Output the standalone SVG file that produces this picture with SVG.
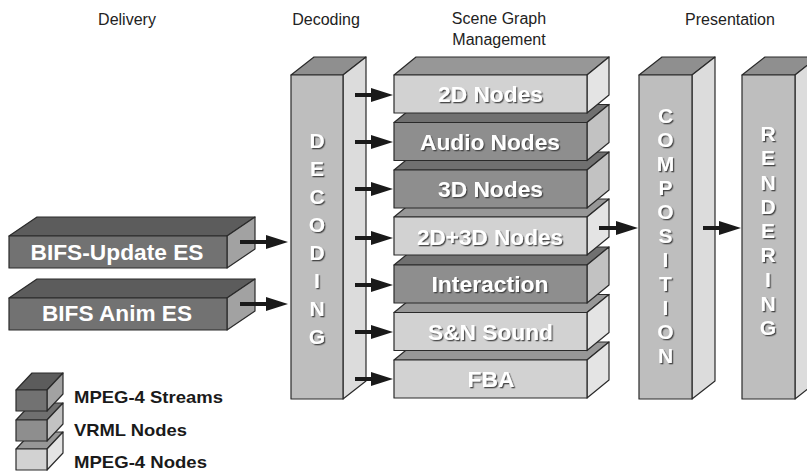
<svg xmlns="http://www.w3.org/2000/svg" width="807" height="475" viewBox="0 0 807 475">
  <defs>
    <style>
      .edge { stroke: #2a2a2a; stroke-width: 1.2; stroke-linejoin: round; }
      .dk-f { fill: #727272; } .dk-t { fill: #5c5c5c; } .dk-s { fill: #a2a2a2; }
      .md-f { fill: #8e8e8e; } .md-t { fill: #707070; } .md-s { fill: #c2c2c2; }
      .lt-f { fill: #d2d2d2; } .lt-t { fill: #979797; } .lt-s { fill: #e4e4e4; }
      .col-f { fill: #bebebe; } .col-t { fill: #8f8f8f; } .col-s { fill: #dcdcdc; }
      .head { font-family: "Liberation Sans", Arial, sans-serif; font-size: 16px; fill: #222; text-anchor: middle; }
      .lbl { font-family: "Liberation Sans", Arial, sans-serif; font-weight: bold; font-size: 22px; fill: #ffffff; text-anchor: middle; }
      .sh { filter: url(#shadow); }
      .vert { font-family: "Liberation Sans", Arial, sans-serif; font-weight: bold; font-size: 21px; fill: #ffffff; text-anchor: middle; filter: url(#shadow); }
      .leg { font-family: "Liberation Sans", Arial, sans-serif; font-weight: bold; font-size: 17px; fill: #1a1a1a; }
      .arrow { stroke: #1a1a1a; stroke-width: 4; fill: none; marker-end: url(#ah); }
    </style>
    <filter id="shadow" x="-20%" y="-20%" width="140%" height="140%">
      <feDropShadow dx="1.3" dy="1.3" stdDeviation="0.5" flood-color="#3c3c3c" flood-opacity="0.9"/>
    </filter>
    <marker id="ah" markerUnits="userSpaceOnUse" markerWidth="24" markerHeight="16" refX="12" refY="7" orient="auto">
      <path d="M0,0 L22,7 L0,14 Z" fill="#1a1a1a"/>
    </marker>
  </defs>

  <rect width="807" height="475" fill="#ffffff"/>

  <!-- column headings -->
  <g id="headings">
    <text class="head" x="127" y="25">Delivery</text>
    <text class="head" x="326" y="25">Decoding</text>
    <text class="head" x="499" y="24">Scene Graph</text>
    <text class="head" x="499" y="45">Management</text>
    <text class="head" x="730" y="25">Presentation</text>
  </g>

  <!-- delivery streams -->
  <g id="bifs-update">
    <polygon class="dk-t edge" points="9,236 37,217 255,217 227,236"/>
    <polygon class="dk-s edge" points="227,236 255,217 255,249 227,268"/>
    <rect class="dk-f edge" x="9" y="236" width="218" height="32"/>
    <text class="lbl" x="117" y="260" textLength="173" lengthAdjust="spacingAndGlyphs">BIFS-Update ES</text>
  </g>
  <g id="bifs-anim">
    <polygon class="dk-t edge" points="9,298 37,279 255,279 227,298"/>
    <polygon class="dk-s edge" points="227,298 255,279 255,311 227,330"/>
    <rect class="dk-f edge" x="9" y="298" width="218" height="32"/>
    <text class="lbl" x="117" y="321" textLength="150" lengthAdjust="spacingAndGlyphs">BIFS Anim ES</text>
  </g>

  <!-- decoding column -->
  <g id="decoding">
    <polygon class="col-t edge" points="291,75 314,57 366,57 343,75"/>
    <polygon class="col-s edge" points="343,75 366,57 366,381 343,399"/>
    <rect class="col-f edge" x="291" y="75" width="52" height="324"/>
    <text class="vert" x="317">
      <tspan x="317" y="148">D</tspan><tspan x="317" y="176">E</tspan><tspan x="317" y="204">C</tspan><tspan x="317" y="232">O</tspan><tspan x="317" y="260">D</tspan><tspan x="317" y="288">I</tspan><tspan x="317" y="316">N</tspan><tspan x="317" y="344">G</tspan>
    </text>
  </g>

  <!-- scene graph nodes, drawn bottom to top so upper boxes overlap lower ones -->
  <g id="fba">
    <polygon class="lt-t edge" points="394,360 416,342 609,342 587,360"/>
    <polygon class="lt-s edge" points="587,360 609,342 609,380 587,398"/>
    <rect class="lt-f edge" x="394" y="360" width="193" height="38"/>
    <text class="lbl sh" x="491" y="387" textLength="47" lengthAdjust="spacingAndGlyphs">FBA</text>
  </g>
  <g id="sn-sound">
    <polygon class="lt-t edge" points="394,312.5 416,294.5 609,294.5 587,312.5"/>
    <polygon class="lt-s edge" points="587,312.5 609,294.5 609,332.5 587,350.5"/>
    <rect class="lt-f edge" x="394" y="312.5" width="193" height="38"/>
    <text class="lbl sh" x="490.5" y="339.5" textLength="125" lengthAdjust="spacingAndGlyphs">S&amp;N Sound</text>
  </g>
  <g id="interaction">
    <polygon class="md-t edge" points="394,265 416,247 609,247 587,265"/>
    <polygon class="md-s edge" points="587,265 609,247 609,285 587,303"/>
    <rect class="md-f edge" x="394" y="265" width="193" height="38"/>
    <text class="lbl sh" x="490" y="292" textLength="117" lengthAdjust="spacingAndGlyphs">Interaction</text>
  </g>
  <g id="nodes-2d3d">
    <polygon class="lt-t edge" points="394,217 416,199 609,199 587,217"/>
    <polygon class="lt-s edge" points="587,217 609,199 609,237 587,255"/>
    <rect class="lt-f edge" x="394" y="217" width="193" height="38"/>
    <text class="lbl sh" x="490" y="245" textLength="146" lengthAdjust="spacingAndGlyphs">2D+3D Nodes</text>
  </g>
  <g id="nodes-3d">
    <polygon class="md-t edge" points="394,170 416,152 609,152 587,170"/>
    <polygon class="md-s edge" points="587,170 609,152 609,190 587,208"/>
    <rect class="md-f edge" x="394" y="170" width="193" height="38"/>
    <text class="lbl sh" x="490.5" y="197" textLength="105" lengthAdjust="spacingAndGlyphs">3D Nodes</text>
  </g>
  <g id="audio-nodes">
    <polygon class="md-t edge" points="394,122.5 416,104.5 609,104.5 587,122.5"/>
    <polygon class="md-s edge" points="587,122.5 609,104.5 609,142.5 587,160.5"/>
    <rect class="md-f edge" x="394" y="122.5" width="193" height="38"/>
    <text class="lbl sh" x="490" y="150" textLength="140" lengthAdjust="spacingAndGlyphs">Audio Nodes</text>
  </g>
  <g id="nodes-2d">
    <polygon class="lt-t edge" points="394,75 416,57 609,57 587,75"/>
    <polygon class="lt-s edge" points="587,75 609,57 609,95 587,113"/>
    <rect class="lt-f edge" x="394" y="75" width="193" height="38"/>
    <text class="lbl sh" x="490.5" y="102" textLength="105" lengthAdjust="spacingAndGlyphs">2D Nodes</text>
  </g>

  <!-- presentation columns -->
  <g id="composition">
    <polygon class="col-t edge" points="639,75 662,57 715,57 692,75"/>
    <polygon class="col-s edge" points="692,75 715,57 715,381 692,399"/>
    <rect class="col-f edge" x="639" y="75" width="53" height="324"/>
    <text class="vert" x="665.5">
      <tspan x="665.5" y="123">C</tspan><tspan x="665.5" y="147">O</tspan><tspan x="665.5" y="171">M</tspan><tspan x="665.5" y="195">P</tspan><tspan x="665.5" y="219">O</tspan><tspan x="665.5" y="243">S</tspan><tspan x="665.5" y="267">I</tspan><tspan x="665.5" y="291">T</tspan><tspan x="665.5" y="315">I</tspan><tspan x="665.5" y="339">O</tspan><tspan x="665.5" y="363">N</tspan>
    </text>
  </g>
  <g id="rendering">
    <polygon class="col-t edge" points="742,75 765,57 818,57 795,75"/>
    <polygon class="col-s edge" points="795,75 818,57 818,381 795,399"/>
    <rect class="col-f edge" x="742" y="75" width="53" height="324"/>
    <text class="vert" x="768">
      <tspan x="768" y="141">R</tspan><tspan x="768" y="165">E</tspan><tspan x="768" y="189.5">N</tspan><tspan x="768" y="214">D</tspan><tspan x="768" y="238">E</tspan><tspan x="768" y="262">R</tspan><tspan x="768" y="286.5">I</tspan><tspan x="768" y="311">N</tspan><tspan x="768" y="335">G</tspan>
    </text>
  </g>

  <!-- connectors -->
  <g id="connectors">
    <line class="arrow" x1="240" y1="242" x2="278" y2="242"/>
    <line class="arrow" x1="240" y1="304" x2="278" y2="304"/>
    <line class="arrow" x1="355" y1="95" x2="383" y2="95"/>
    <line class="arrow" x1="355" y1="142" x2="383" y2="142"/>
    <line class="arrow" x1="355" y1="189" x2="383" y2="189"/>
    <line class="arrow" x1="355" y1="238" x2="383" y2="238"/>
    <line class="arrow" x1="355" y1="285" x2="383" y2="285"/>
    <line class="arrow" x1="355" y1="332" x2="383" y2="332"/>
    <line class="arrow" x1="355" y1="379" x2="383" y2="379"/>
    <line class="arrow" x1="599" y1="228" x2="628" y2="228"/>
    <line class="arrow" x1="703" y1="228" x2="731" y2="228"/>
  </g>

  <!-- legend -->
  <g id="legend">
    <g id="legend-mpeg4-nodes">
      <polygon class="lt-t edge" points="16,449 32,432 63,432 47,449"/>
      <polygon class="lt-s edge" points="47,449 63,432 63,453 47,470"/>
      <rect class="lt-f edge" x="16" y="449" width="31" height="21"/>
      <text class="leg" x="74" y="468" textLength="133" lengthAdjust="spacingAndGlyphs">MPEG-4 Nodes</text>
    </g>
    <g id="legend-vrml">
      <polygon class="md-t edge" points="16,420 32,403 63,403 47,420"/>
      <polygon class="md-s edge" points="47,420 63,403 63,424 47,441"/>
      <rect class="md-f edge" x="16" y="420" width="31" height="21"/>
      <text class="leg" x="74" y="436" textLength="113" lengthAdjust="spacingAndGlyphs">VRML Nodes</text>
    </g>
    <g id="legend-streams">
      <polygon class="dk-t edge" points="16,390 32,373 63,373 47,390"/>
      <polygon class="dk-s edge" points="47,390 63,373 63,394 47,411"/>
      <rect class="dk-f edge" x="16" y="390" width="31" height="21"/>
      <text class="leg" x="74" y="403" textLength="149" lengthAdjust="spacingAndGlyphs">MPEG-4 Streams</text>
    </g>
  </g>
</svg>
